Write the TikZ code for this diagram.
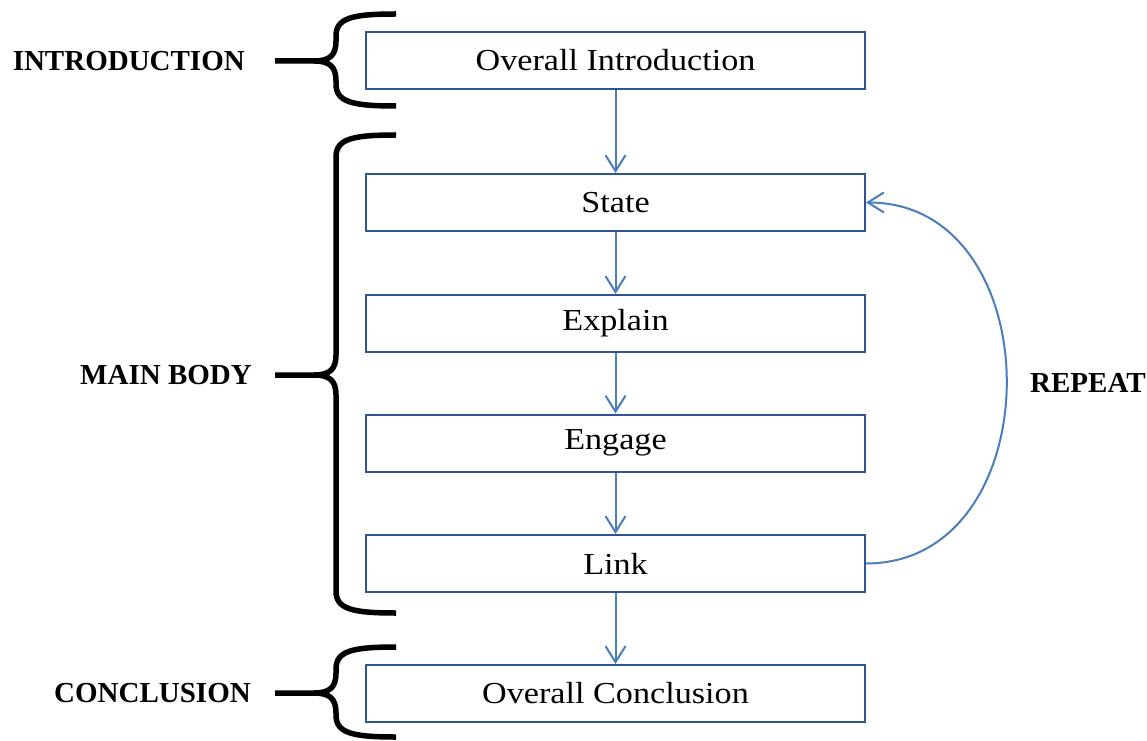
\documentclass[tikz,border=0pt]{standalone}
\usepackage{fontspec}
\setmainfont{Liberation Serif}
\newfontfamily\boxfont{Liberation Serif}[FakeStretch=1.12]
\usetikzlibrary{arrows.meta}
\definecolor{boxedge}{HTML}{2F5597}
\definecolor{arrowblue}{HTML}{4A7EBB}
\begin{document}
\begin{tikzpicture}[x=1pt,y=1pt,
  stepbox/.style={draw=boxedge, line width=2pt, minimum width=499pt, minimum height=57pt, inner sep=0pt,
    font=\boxfont\fontsize{30.5}{36}\selectfont},
  flow/.style={draw=arrowblue, line width=2pt, -{Straight Barb[length=16pt,width=20pt,line width=2pt]}},
  label/.style={font=\bfseries\fontsize{29}{34}\selectfont, inner sep=0pt},
  bracestroke/.style={line width=5.5pt, black}
]
\useasboundingbox (0,0) rectangle (1147,740);
\node[stepbox] (intro) at (615.5,679.5) {Overall Introduction};
\node[stepbox] (state) at (615.5,537.5) {State};
\node[stepbox] (explain) at (615.5,416.5) {Explain};
\node[stepbox] (engage) at (615.5,297) {Engage};
\node[stepbox] (link) at (615.5,176.5) {Link};
\node[stepbox] (concl) at (615.5,46.5) {Overall Conclusion};
\draw[flow] (intro) -- (state);
\draw[flow] (state) -- (explain);
\draw[flow] (explain) -- (engage);
\draw[flow] (engage) -- (link);
\draw[flow] (link) -- (concl);
\draw[flow] (link.east) to[out=0,in=0,looseness=1.33] (state.east);
\node[label, anchor=west] (repeat) at (1030,357) {REPEAT};
\node[label, anchor=east] (lintro) at (245,679) {INTRODUCTION};
\node[label, anchor=east] (lbody) at (252,365) {MAIN BODY};
\node[label, anchor=east] (lconcl) at (251,47) {CONCLUSION};
% braces: top, mid, bottom (y up)
\foreach \t/\m/\b in {726/679/634, 605/365/127, 93/47/3}{
  \draw[bracestroke] (396,\t) .. controls (352,\t) and (336,\t-4) .. (336,\t-22)
     -- (336,\m+20) .. controls (336,\m+6) and (330,\m) .. (314,\m) -- (275,\m);
  \draw[bracestroke] (396,\b) .. controls (352,\b) and (336,\b+4) .. (336,\b+22)
     -- (336,\m-20) .. controls (336,\m-6) and (330,\m) .. (314,\m);
}
\end{tikzpicture}
\end{document}
